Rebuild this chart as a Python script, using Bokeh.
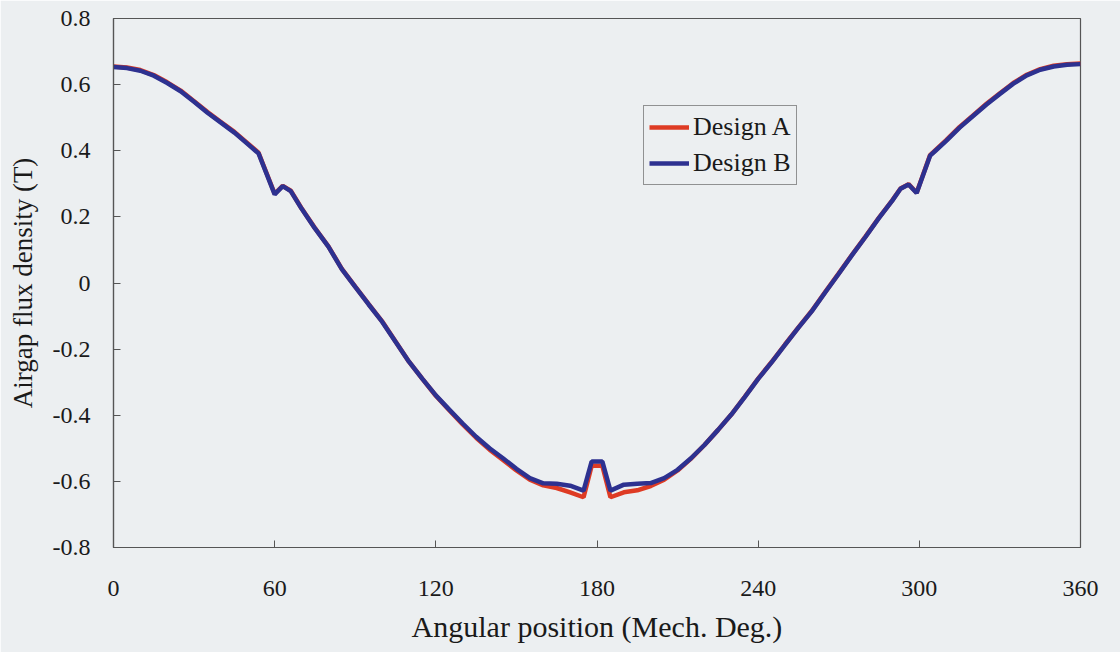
from bokeh.plotting import figure
from bokeh.models import Range1d, FixedTicker, Legend, LegendItem
from bokeh.embed import file_html
from bokeh.resources import INLINE

angle_deg = [0, 5, 10, 15, 20, 25, 30, 35, 40, 45, 50, 54, 57, 60, 63, 66, 70, 75, 80, 85,
             90, 95, 100, 105, 110, 115, 120, 125, 130, 135, 140, 145, 150, 155, 160, 165,
             170, 175, 178, 182, 185, 190, 195, 200, 205, 210, 215, 220, 225, 230, 235,
             240, 245, 250, 255, 260, 265, 270, 275, 280, 285, 290, 293, 296, 299, 304,
             306, 310, 315, 320, 325, 330, 335, 340, 345, 350, 355, 360]

design_b = [0.653, 0.650, 0.642, 0.627, 0.605, 0.580, 0.548, 0.515, 0.485, 0.455, 0.420,
            0.392, 0.330, 0.268, 0.293, 0.278, 0.225, 0.165, 0.110, 0.042,
            -0.012, -0.065, -0.117, -0.178, -0.238, -0.290, -0.340, -0.383, -0.425, -0.465,
            -0.500, -0.530, -0.562, -0.590, -0.606, -0.607, -0.613, -0.628, -0.540, -0.540,
            -0.628, -0.610, -0.607, -0.605, -0.590, -0.565, -0.530, -0.490, -0.445, -0.398,
            -0.345, -0.290, -0.240, -0.187, -0.135, -0.085, -0.028, 0.028, 0.085, 0.140,
            0.197, 0.250, 0.285, 0.298, 0.272, 0.385, 0.400, 0.430, 0.470, 0.505, 0.540,
            0.572, 0.603, 0.628, 0.645, 0.655, 0.660, 0.662]

design_a = [0.655, 0.652, 0.644, 0.629, 0.607, 0.582, 0.550, 0.517, 0.487, 0.457, 0.422,
            0.394, 0.332, 0.270, 0.294, 0.279, 0.226, 0.166, 0.111, 0.043,
            -0.011, -0.064, -0.116, -0.177, -0.238, -0.290, -0.341, -0.385, -0.428, -0.468,
            -0.504, -0.535, -0.567, -0.595, -0.612, -0.620, -0.633, -0.648, -0.553, -0.553,
            -0.648, -0.633, -0.627, -0.614, -0.595, -0.567, -0.531, -0.490, -0.445, -0.398,
            -0.344, -0.289, -0.239, -0.186, -0.134, -0.084, -0.027, 0.029, 0.086, 0.141,
            0.198, 0.251, 0.286, 0.299, 0.273, 0.387, 0.402, 0.432, 0.472, 0.507, 0.542,
            0.574, 0.605, 0.630, 0.647, 0.657, 0.662, 0.664]

x_ticks = [0, 60, 120, 180, 240, 300, 360]
x_tick_labels = ["0", "60", "120", "180", "240", "300", "360"]
y_ticks = [-0.8, -0.6, -0.4, -0.2, 0, 0.2, 0.4, 0.6, 0.8]
y_tick_labels = ["-0.8", "-0.6", "-0.4", "-0.2", "0", "0.2", "0.4", "0.6", "0.8"]

series_names = ["Design A", "Design B"]
series_colors = ["#de3b24", "#2d3190"]

BG = "#eceff1"
FONT = "'Liberation Serif', 'Times New Roman', serif"

p = figure(width=1120, height=652, output_backend="svg", toolbar_location=None,
           x_range=Range1d(0, 360), y_range=Range1d(-0.8, 0.8),
           min_border_left=113, min_border_right=40, min_border_top=18,
           min_border_bottom=105)
p.background_fill_color = BG
p.border_fill_color = BG
p.outline_line_color = "#555555"
p.outline_line_width = 1.2
p.xgrid.visible = False
p.ygrid.visible = False

r_a = p.line(angle_deg, design_a, line_color=series_colors[0], line_width=4.5)
r_b = p.line(angle_deg, design_b, line_color=series_colors[1], line_width=4.5)

for ax in (p.xaxis[0], p.yaxis[0]):
    ax.axis_line_color = "#555555"
    ax.axis_line_width = 1.2
    ax.major_tick_line_color = "#555555"
    ax.major_tick_in = 7
    ax.major_tick_out = 0
    ax.minor_tick_line_color = None
    ax.major_label_text_font = FONT
    ax.major_label_text_font_size = "24px"
    ax.major_label_text_color = "#1a1a1a"
    ax.axis_label_text_font = FONT
    ax.axis_label_text_font_style = "normal"
    ax.axis_label_text_color = "#1a1a1a"

p.xaxis.ticker = FixedTicker(ticks=x_ticks)
p.xaxis.major_label_overrides = dict(zip(x_ticks, x_tick_labels))
p.yaxis.ticker = FixedTicker(ticks=y_ticks)
p.yaxis.major_label_overrides = dict(zip(y_ticks, y_tick_labels))
p.xaxis.major_label_standoff = 33
p.yaxis.major_label_standoff = 23
p.xaxis.axis_label = "Angular position (Mech. Deg.)"
p.yaxis.axis_label = "Airgap flux density (T)"
p.xaxis.axis_label_text_font_size = "30px"
p.yaxis.axis_label_text_font_size = "27px"
p.xaxis.axis_label_standoff = 11
p.yaxis.axis_label_standoff = 12

legend = Legend(items=[LegendItem(label=series_names[0], renderers=[r_a]),
                       LegendItem(label=series_names[1], renderers=[r_b])],
                location=(530, 362))
legend.label_text_font = FONT
legend.label_text_font_size = "26px"
legend.label_text_color = "#1a1a1a"
legend.border_line_color = "#333333"
legend.border_line_width = 1
legend.background_fill_color = BG
legend.background_fill_alpha = 1
legend.glyph_width = 40
legend.glyph_height = 32
legend.label_height = 32
legend.label_standoff = 4
legend.spacing = 4
legend.padding = 5
legend.margin = 0
p.add_layout(legend, "center")

open("out.html", "w").write(file_html(p, INLINE))
